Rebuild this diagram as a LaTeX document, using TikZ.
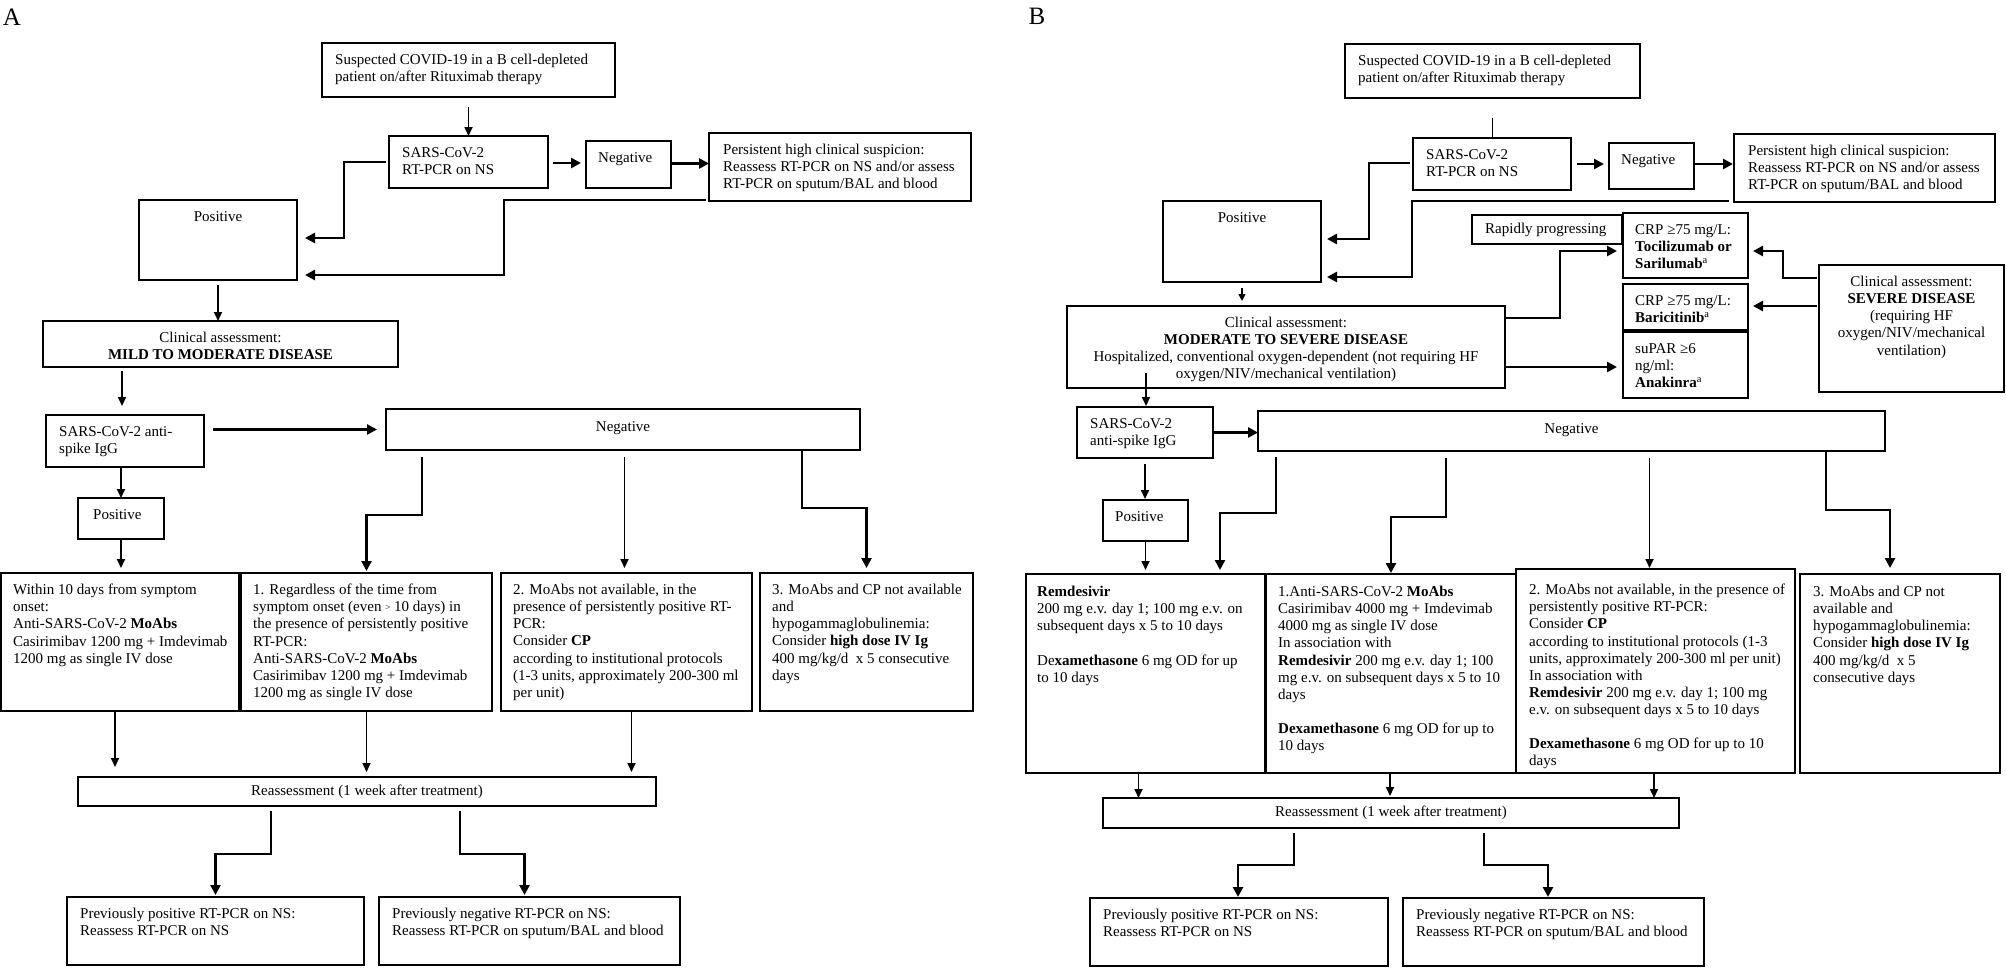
\documentclass[tikz,border=0pt]{standalone}
\usepackage{fontspec}
\setmainfont{Liberation Serif}
\usetikzlibrary{arrows.meta,calc}
\tikzset{
  box/.style={draw, line width=1.3pt, anchor=north west, inner sep=0pt, outer sep=0pt},
  txt/.style={anchor=north west, inner sep=0pt, align=left, font=\fontsize{15}{17.1}\selectfont},
  ctxt/.style={anchor=north, inner sep=0pt, align=center, font=\fontsize{15}{17.1}\selectfont},
  mtxt/.style={inner sep=0pt, align=center, font=\fontsize{15}{17.1}\selectfont},
  thk/.style={line width=2.8pt, -{Triangle[length=10pt,width=10pt]}},
  thn/.style={line width=1.7pt, -{Triangle[length=9pt,width=8pt]}},
  plain/.style={line width=1.5pt},
  panlab/.style={inner sep=0pt, font=\fontsize{25}{25}\selectfont}
}
\newcommand\BoxL[8]{%
  \node[box, minimum width={(#4-#2)*1pt}, minimum height={(#5-#3)*1pt}] (#1) at (#2,#3) {};
  \node[txt] (#1t) at (#2+#6,#3+#7) {#8};}
\newcommand\BoxC[7]{%
  \node[box, minimum width={(#4-#2)*1pt}, minimum height={(#5-#3)*1pt}] (#1) at (#2,#3) {};
  \node[ctxt] (#1t) at ($(#1.north)+(0,#6)$) {#7};}
\newcommand\BoxM[6]{%
  \node[box, minimum width={(#4-#2)*1pt}, minimum height={(#5-#3)*1pt}] (#1) at (#2,#3) {};
  \node[mtxt] (#1t) at (#1.center) {#6};}
\newcommand\sgt{\raisebox{0.25ex}{\fontsize{9}{9}\selectfont >}}
\begin{document}
\begin{tikzpicture}[x=1pt,y=-1pt]
\useasboundingbox (0,0) rectangle (2006,967);
\fill[white] (0,0) rectangle (2006,967);

\node[panlab] (labA) at (12,17) {A};
\node[panlab] (labB) at (1037,16) {B};

% ---------------- Panel A ----------------
\BoxL{topA}{322}{43}{615}{97}{13}{11}{Suspected COVID-19 in a B cell-depleted\\patient on/after Rituximab therapy}
\BoxL{sarsA}{389}{136}{548}{188}{13}{11}{SARS-CoV-2\\RT-PCR on NS}
\BoxL{negA}{586}{141}{671}{188}{12}{11}{Negative}
\BoxL{persA}{709}{133}{971}{201}{14}{11}{Persistent high clinical suspicion:\\Reassess RT-PCR on NS and/or assess\\RT-PCR on sputum/BAL and blood}
\BoxC{posA}{139}{200}{297}{280}{11}{Positive}
\BoxC{clinA}{43}{321}{398}{367}{11}{Clinical assessment:\\\textbf{MILD TO MODERATE DISEASE}}
\BoxL{iggA}{46}{415}{204}{467}{13}{11}{SARS-CoV-2 anti-\\spike IgG}
\BoxC{neg2A}{386}{409}{860}{450}{12}{Negative}
\BoxL{pos2A}{78}{498}{164}{539}{15}{11}{Positive}
\BoxL{a1}{1}{573}{239}{711}{12}{11}{Within 10 days from symptom\\onset:\\Anti-SARS-CoV-2 \textbf{MoAbs}\\Casirimibav 1200 mg + Imdevimab\\1200 mg as single IV dose}
\BoxL{a2}{241}{573}{492}{711}{12}{11}{1. Regardless of the time from\\symptom onset (even \sgt{} 10 days) in\\the presence of persistently positive\\RT-PCR:\\Anti-SARS-CoV-2 \textbf{MoAbs}\\Casirimibav 1200 mg + Imdevimab\\1200 mg as single IV dose}
\BoxL{a3}{501}{573}{752}{711}{12}{11}{2. MoAbs not available, in the\\presence of persistently positive RT-\\PCR:\\Consider \textbf{CP}\\according to institutional protocols\\(1-3 units, approximately 200-300 ml\\per unit)}
\BoxL{a4}{760}{573}{973}{711}{12}{11}{3. MoAbs and CP not available\\and\\hypogammaglobulinemia:\\Consider \textbf{high dose IV Ig}\\400 mg/kg/d\ \ x 5 consecutive\\days}
\BoxM{reA}{78}{777}{656}{806}{Reassessment (1 week after treatment)}
\BoxL{botA1}{67}{897}{364}{965}{13}{11}{Previously positive RT-PCR on NS:\\Reassess RT-PCR on NS}
\BoxL{botA2}{379}{897}{680}{965}{13}{11}{Previously negative RT-PCR on NS:\\Reassess RT-PCR on sputum/BAL and blood}

% connectors A
\draw[thn] ($(topA.south)+(0,10)$) -- (topA.south |- sarsA.north);
\draw[thk] ($(sarsA.east)+(5,1)$) -- ($(sarsA.east -| negA.west)+(-5,1)$);
\draw[thk] ($(negA.east)+(1,-1)$) -- ($(negA.east -| persA.west)+(0,-1)$);
\draw[thk] ($(sarsA.west)+(-3,0)$) -- ++(-42,0) |- ($(posA.east)+(8,-2)$);
\draw[thk] ($(persA.south west)+(-3,-1)$) -- ++(-202,0) |- ($(posA.south east)+(8,-5)$);
\draw[thn] ($(posA.south)+(0,5)$) -- (posA.south |- clinA.north);
\draw[thn] ($(clinA.south west)+(79,4)$) -- ($(iggA.north west)+(76,-9)$);
\draw[thn] (iggA.south -| pos2A.north) -- (pos2A.north);
\draw[thn] ($(pos2A.south)+(0,1)$) -- ($(pos2A.south |- a1.north)+(0,-5)$);
\draw[thk] ($(iggA.east |- neg2A.west)+(9,0)$) -- ($(neg2A.west)+(-9,0)$);
\draw[thk] ($(neg2A.south west)+(36,7)$) -- ++(0,58) -| ($(a2.north)+(0,-2)$);
\draw[thn] ($(a3.north |- neg2A.south)+(-2,7)$) -- ($(a3.north)+(-2,-5)$);
\draw[thk] ($(neg2A.south east)+(-58,1)$) -- ++(0,57) -| ($(a4.north)+(0,-5)$);
\draw[thn] ($(a1.south)+(-5,1)$) -- ($(a1.south |- reA.north)+(-5,-10)$);
\draw[thn] ($(a2.south)+(0,1)$) -- ($(a2.south |- reA.north)+(0,-5)$);
\draw[thn] ($(a3.south)+(5,1)$) -- ($(a3.south |- reA.north)+(5,-5)$);
\draw[thk] ($(reA.south west)+(193,5)$) -- ++(0,43) -| ($(botA1.north)+(0,-2)$);
\draw[thk] ($(reA.south west)+(382,5)$) -- ++(0,43) -| ($(botA2.north)+(-5,-2)$);

% ---------------- Panel B ----------------
\BoxL{topB}{1345}{44}{1640}{98}{13}{11}{Suspected COVID-19 in a B cell-depleted\\patient on/after Rituximab therapy}
\BoxL{sarsB}{1413}{138}{1571}{190}{13}{11}{SARS-CoV-2\\RT-PCR on NS}
\BoxL{negB}{1609}{143}{1694}{189}{12}{11}{Negative}
\BoxL{persB}{1734}{134}{1995}{202}{14}{11}{Persistent high clinical suspicion:\\Reassess RT-PCR on NS and/or assess\\RT-PCR on sputum/BAL and blood}
\BoxC{posB}{1163}{201}{1321}{282}{11}{Positive}
\node[box, minimum width=150pt, minimum height=29pt] (rapB) at (1472,215) {};
\node[mtxt, anchor=west] (rapBt) at ($(rapB.west)+(13,0)$) {Rapidly progressing};
\BoxL{tociB}{1623}{213}{1748}{278}{12}{11}{CRP ≥75 mg/L:\\\textbf{Tocilizumab or}\\\textbf{Sarilumab}\textsuperscript{a}}
\BoxL{bariB}{1623}{284}{1748}{330}{12}{11}{CRP ≥75 mg/L:\\\textbf{Baricitinib}\textsuperscript{a}}
\BoxL{supB}{1623}{332}{1748}{398}{12}{11}{suPAR ≥6\\ng/ml:\\\textbf{Anakinra}\textsuperscript{a}}
\BoxC{sevB}{1819}{265}{2004}{392}{11}{Clinical assessment:\\\textbf{SEVERE DISEASE}\\(requiring HF\\oxygen/NIV/mechanical\\ventilation)}
\BoxC{modB}{1067}{306}{1505}{388}{11}{Clinical assessment:\\\textbf{MODERATE TO SEVERE DISEASE}\\Hospitalized, conventional oxygen-dependent (not requiring HF\\oxygen/NIV/mechanical ventilation)}
\BoxL{iggB}{1077}{407}{1213}{458}{13}{11}{SARS-CoV-2\\anti-spike IgG}
\BoxC{neg2B}{1258}{411}{1885}{451}{12}{Negative}
\BoxL{pos2B}{1103}{500}{1188}{541}{12}{11}{Positive}
\BoxL{b1}{1026}{574}{1265}{773}{11}{12}{\textbf{Remdesivir}\\200 mg e.v. day 1; 100 mg e.v. on\\subsequent days x 5 to 10 days\\[17.1pt]De\textbf{xamethasone} 6 mg OD for up\\to 10 days}
\BoxL{b2}{1266}{574}{1516}{773}{12}{12}{1.Anti-SARS-CoV-2 \textbf{MoAbs}\\Casirimibav 4000 mg + Imdevimab\\4000 mg as single IV dose\\In association with\\\textbf{Remdesivir} 200 mg e.v. day 1; 100\\mg e.v. on subsequent days x 5 to 10\\days\\[17.1pt]\textbf{Dexamethasone} 6 mg OD for up to\\10 days}
\BoxL{b3}{1516}{569}{1795}{773}{13}{15}{2. MoAbs not available, in the presence of\\persistently positive RT-PCR:\\Consider \textbf{CP}\\according to institutional protocols (1-3\\units, approximately 200-300 ml per unit)\\In association with\\\textbf{Remdesivir} 200 mg e.v. day 1; 100 mg\\e.v. on subsequent days x 5 to 10 days\\[17.1pt]\textbf{Dexamethasone} 6 mg OD for up to 10\\days}
\BoxL{b4}{1800}{574}{2000}{773}{13}{12}{3. MoAbs and CP not\\available and\\hypogammaglobulinemia:\\Consider \textbf{high dose IV Ig}\\400 mg/kg/d\ \ x 5\\consecutive days}
\BoxM{reB}{1103}{798}{1679}{828}{Reassessment (1 week after treatment)}
\BoxL{botB1}{1090}{898}{1388}{966}{13}{11}{Previously positive RT-PCR on NS:\\Reassess RT-PCR on NS}
\BoxL{botB2}{1403}{898}{1704}{966}{13}{11}{Previously negative RT-PCR on NS:\\Reassess RT-PCR on sputum/BAL and blood}

% connectors B
\draw[plain] ($(topB.south)+(0,20)$) -- (topB.south |- sarsB.north);
\draw[thk] ($(sarsB.east)+(6,0)$) -- ($(sarsB.east -| negB.west)+(-5,0)$);
\draw[thk] ($(negB.east)+(1,-2)$) -- ($(negB.east -| persB.west)+(-1,-2)$);
\draw[thk] ($(sarsB.west)+(-3,-1)$) -- ++(-41,0) |- ($(posB.east)+(6,-2.5)$);
\draw[thk] ($(persB.south west)+(-5,-1)$) -- ++(-317,0) |- ($(posB.south east)+(6,-5)$);
\draw[line width=1.5pt, -{Triangle[length=7pt,width=7pt]}] ($(posB.south)+(0,6)$) -- ($(posB.south |- modB.north)+(0,-5)$);
\draw[thk] ($(modB.north east)+(0,12)$) -- ++(55,0) |- ($(tociB.west)+(-6,5.5)$);
\draw[thk] ($(modB.east)+(0,20)$) -- ($(modB.east -| supB.west)+(-6,20)$);
\draw[thk] ($(sevB.north west)+(-2,13)$) -- ++(-34,0) |- ($(tociB.east)+(5,5.5)$);
\draw[thk] ($(sevB.north west)+(-2,41)$) -- ($(sevB.north west -| bariB.east)+(5,41)$);
\draw[thn] ($(modB.south west)+(79,-15)$) -- ($(iggB.north west)+(69,-1)$);
\draw[thk] (iggB.east) -- (iggB.east -| neg2B.west);
\draw[thn] ($(iggB.south)+(0,6)$) -- ($(iggB.south |- pos2B.north)+(0,-1)$);
\draw[thn] (pos2B.south) -- ($(pos2B.south |- b1.north)+(0,-4)$);
\draw[thk] ($(neg2B.south west)+(18,6)$) -- ++(0,56) -| ($(b1.north)+(74.5,-4)$);
\draw[thk] ($(neg2B.south west)+(188,7)$) -- ++(0,59) -| ($(b2.north)+(0,-1)$);
\draw[thn] ($(b3.north |- neg2B.south)+(-6,7)$) -- ($(b3.north)+(-6,-1)$);
\draw[thk] ($(neg2B.south east)+(-59,1)$) -- ++(0,58) -| ($(b4.north)+(-10,-6)$);
\draw[thn] ($(b1.south)+(-7,0)$) -- ($(b1.south |- reB.north)+(-7,0)$);
\draw[thn] ($(b2.south)+(-1,0)$) -- ($(b2.south |- reB.north)+(-1,-2)$);
\draw[thn] ($(b3.south)+(-1.5,0)$) -- ($(b3.south |- reB.north)+(-1.5,0)$);
\draw[thk] ($(reB.south west)+(191,5)$) -- ++(0,32) -| ($(botB1.north)+(-1,-1)$);
\draw[thk] ($(reB.south west)+(381,5)$) -- ++(0,32) -| ($(botB2.north)+(-5.5,-1)$);
\end{tikzpicture}
\end{document}
